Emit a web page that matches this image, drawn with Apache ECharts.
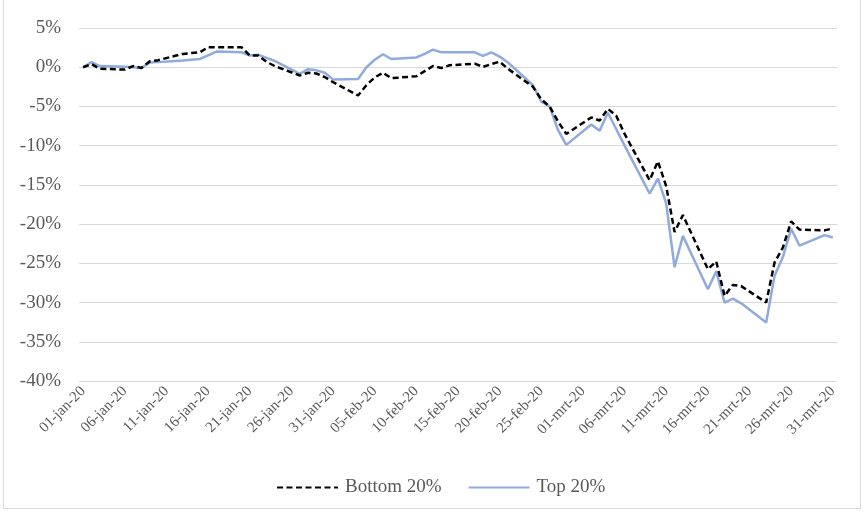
<!DOCTYPE html>
<html>
<head>
<meta charset="utf-8">
<script src="https://cdn.jsdelivr.net/npm/echarts@6/dist/echarts.min.js"></script>
<style>
  html, body { margin: 0; padding: 0; background: #fff; }
  #chart { width: 863px; height: 517px; }
</style>
</head>
<body>
<div id="chart"></div>
<script>
// calendar used for the date axis (all days, weekends included)
var monthNames = ['jan', 'feb', 'mrt'];
var monthDays = [31, 29, 31];

// trading days with a value
var tradeDates = [
  '01-jan-20', '02-jan-20', '03-jan-20', '06-jan-20', '07-jan-20', '08-jan-20', '09-jan-20', '10-jan-20',
  '13-jan-20', '14-jan-20', '15-jan-20', '16-jan-20', '17-jan-20', '20-jan-20', '21-jan-20', '22-jan-20',
  '23-jan-20', '24-jan-20', '27-jan-20', '28-jan-20', '29-jan-20', '30-jan-20', '31-jan-20',
  '03-feb-20', '04-feb-20', '05-feb-20', '06-feb-20', '07-feb-20', '10-feb-20', '11-feb-20', '12-feb-20',
  '13-feb-20', '14-feb-20', '17-feb-20', '18-feb-20', '19-feb-20', '20-feb-20', '21-feb-20', '24-feb-20',
  '25-feb-20', '26-feb-20', '27-feb-20', '28-feb-20',
  '02-mrt-20', '03-mrt-20', '04-mrt-20', '05-mrt-20', '06-mrt-20', '09-mrt-20', '10-mrt-20', '11-mrt-20',
  '12-mrt-20', '13-mrt-20', '16-mrt-20', '17-mrt-20', '18-mrt-20', '19-mrt-20', '20-mrt-20', '23-mrt-20',
  '24-mrt-20', '25-mrt-20', '26-mrt-20', '27-mrt-20', '30-mrt-20', '31-mrt-20'
];

var bottom20 = [
  0, 0.4, -0.2, -0.3, 0.15, -0.1, 0.75, 0.9,
  1.7, 1.8, 1.9, 2.55, 2.55, 2.55, 1.5, 1.5,
  0.7, 0.15, -1.05, -0.7, -0.8, -1.25, -1.9,
  -3.6, -2.3, -1.3, -0.7, -1.4, -1.15, -0.5, 0.15,
  -0.1, 0.25, 0.45, 0.05, 0.4, 0.7, -0.2, -2.5,
  -4.1, -5.0, -6.9, -8.5,
  -6.4, -6.8, -5.3, -6.2, -8.5, -14.4, -12.0, -15.2,
  -21.0, -18.85, -25.75, -24.75, -29.15, -27.75, -27.9, -30.0,
  -24.9, -23.0, -19.65, -20.7, -20.8, -20.55
];

var top20 = [
  0, 0.65, 0.15, 0.05, 0.0, -0.1, 0.6, 0.65,
  0.85, 0.95, 1.05, 1.5, 2.0, 1.9, 1.5, 1.6,
  1.2, 0.8, -0.85, -0.25, -0.4, -0.7, -1.55,
  -1.5, 0.0, 0.95, 1.65, 1.05, 1.25, 1.7, 2.25,
  1.9, 1.9, 1.9, 1.45, 1.9, 1.35, 0.6, -2.3,
  -4.4, -5.0, -8.0, -9.9,
  -7.3, -8.1, -5.8, -7.9, -10.0, -16.1, -14.2, -17.4,
  -25.5, -21.5, -28.3, -26.0, -30.0, -29.5, -30.1, -32.55,
  -26.6, -24.2, -20.6, -22.75, -21.4, -21.7
];

var yTicks = { min: -40, max: 5, step: 5 };

// build the category labels dd-mmm-20
var days = [];
monthNames.forEach(function (m, i) {
  for (var d = 1; d <= monthDays[i]; d++) {
    days.push((d < 10 ? '0' + d : '' + d) + '-' + m + '-20');
  }
});

function pairs(vals) {
  return tradeDates.map(function (t, i) { return [t, vals[i]]; });
}

var textColor = '#595959';
var font = '"Liberation Serif", "Times New Roman", serif';

var myChart = echarts.init(document.getElementById('chart'));

var option = {
  animation: false,
  backgroundColor: '#fff',
  textStyle: { fontFamily: font },

  // outer chart border
  graphic: [{
    type: 'rect',
    shape: { x: 3.5, y: -1, width: 857, height: 509.5 },
    style: { fill: 'none', stroke: '#d9d9d9', lineWidth: 1 },
    silent: true
  }],

  grid: {
    left: 79,
    right: 26,
    top: 28,
    bottom: 136
  },

  legend: {
    top: 473,
    left: 271,
    itemWidth: 61,
    itemHeight: 14,
    itemGap: 26,
    itemStyle: { opacity: 0 },
    textStyle: { color: textColor, fontSize: 19, fontFamily: font, padding: [0, 0, 0, 2] },
    data: ['Bottom 20%', 'Top 20%']
  },

  xAxis: [{
    type: 'category',
    boundaryGap: true,
    data: days,
    axisLine: { show: true, lineStyle: { color: '#d9d9d9', width: 1 } },
    axisTick: { show: false },
    axisLabel: {
      interval: 4,
      rotate: 45,
      margin: 8,
      color: textColor,
      fontSize: 15,
      fontFamily: font
    },
    splitLine: { show: false }
  }],

  yAxis: [{
    type: 'value',
    min: yTicks.min,
    max: yTicks.max,
    interval: yTicks.step,
    axisLine: { show: false },
    axisTick: { show: false },
    axisLabel: {
      formatter: '{value}%',
      margin: 18,
      color: textColor,
      fontSize: 19,
      fontFamily: font
    },
    splitLine: { show: true, lineStyle: { color: '#d9d9d9', width: 1 } }
  }],

  series: [
    {
      name: 'Bottom 20%',
      type: 'line',
      symbol: 'none',
      z: 3,
      lineStyle: { color: '#000', width: 2.5, type: [6, 3.5] },
      itemStyle: { color: '#000' },
      data: pairs(bottom20)
    },
    {
      name: 'Top 20%',
      type: 'line',
      symbol: 'none',
      z: 2,
      lineStyle: { color: '#8faadc', width: 2.5 },
      itemStyle: { color: '#8faadc' },
      data: pairs(top20)
    }
  ]
};

myChart.setOption(option);
</script>
</body>
</html>
